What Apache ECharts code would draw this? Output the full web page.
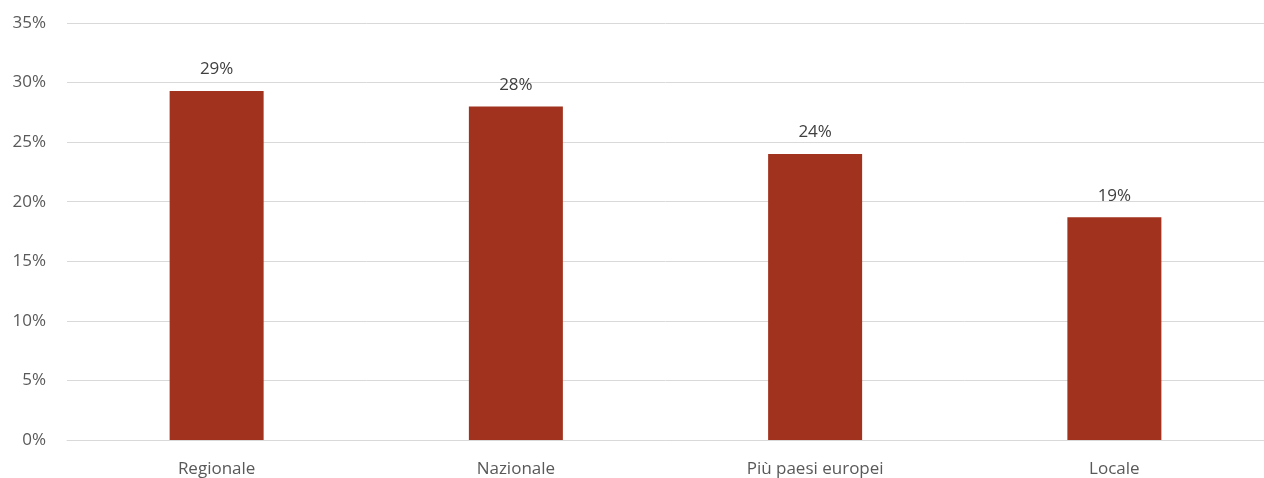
<!DOCTYPE html>
<html>
<head>
<meta charset="utf-8">
<script src="https://cdn.jsdelivr.net/npm/echarts@6/dist/echarts.min.js"></script>
<style>html,body{margin:0;padding:0;background:#fff;}#c{width:1264px;height:478px;}</style>
</head>
<body>
<div id="c"></div>
<script>
const categories = ['Regionale', 'Nazionale', 'Più paesi europei', 'Locale'];
const values = [29.3, 28.0, 24.0, 18.7];
const labels = ['29%', '28%', '24%', '19%'];
const yTicks = [0, 5, 10, 15, 20, 25, 30, 35];

const chart = echarts.init(document.getElementById('c'));
chart.setOption({
  animation: false,
  grid: { left: 67, right: -1, top: 23, bottom: 38 },
  xAxis: {
    type: 'category',
    data: categories,
    axisTick: { show: false },
    axisLine: { lineStyle: { color: '#d9d9d9', width: 1 } },
    axisLabel: { color: '#595959', fontSize: 17, fontFamily: 'Open Sans', margin: 21 }
  },
  yAxis: {
    type: 'value',
    min: 0, max: 35, interval: 5,
    axisLine: { show: false },
    axisTick: { show: false },
    splitLine: { lineStyle: { color: '#d9d9d9', width: 1 } },
    axisLabel: { color: '#595959', fontSize: 17, fontFamily: 'Open Sans', margin: 21,
      formatter: v => yTicks.includes(v) ? v + '%' : '' }
  },
  series: [{
    type: 'bar',
    data: values,
    barWidth: 94,
    itemStyle: { color: '#A0321E' },
    label: {
      show: true, position: 'top', distance: 13,
      color: '#404040', fontSize: 17, fontFamily: 'Open Sans',
      formatter: p => labels[p.dataIndex]
    }
  }]
});
</script>
</body>
</html>
